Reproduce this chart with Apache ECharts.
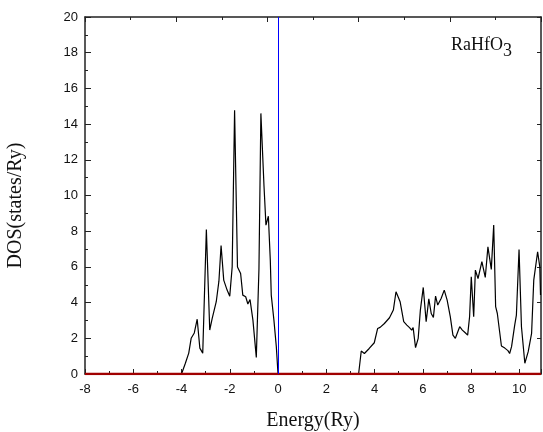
<!DOCTYPE html>
<html lang="en">

<head>
    <meta charset="UTF-8">
    <title>RaHfO3 DOS</title>
    <script src="https://cdn.jsdelivr.net/npm/echarts@6/dist/echarts.min.js"></script>
    <style>
        body { margin: 0; background: #fff; }
        .dos { width: 543px; height: 432px; }
    </style>
</head>

<body>
    <div class="dos"></div>
</body>
<script>
    // energy (Ry) and DOS (states/Ry)
    let energy = [-8, -4.0, -3.84, -3.70, -3.60, -3.47, -3.35, -3.24, -3.12, -3.04, -2.97, -2.83, -2.73, -2.56, -2.45,
        -2.36, -2.25, -2.11, -2.0, -1.90, -1.80, -1.68, -1.55, -1.46, -1.34, -1.25, -1.16, -1.04, -0.90, -0.79,
        -0.71, -0.58, -0.50, -0.40, -0.32, -0.28, -0.17, -0.07, 0.0,
        3.34, 3.45, 3.58, 3.78, 3.99, 4.13, 4.23, 4.41, 4.62, 4.78, 4.89, 4.99, 5.06, 5.13, 5.21, 5.34, 5.45, 5.54,
        5.60, 5.70, 5.81, 5.90, 6.02, 6.14, 6.25, 6.35, 6.44, 6.53, 6.62, 6.76, 6.89, 7.01, 7.14, 7.25, 7.35, 7.43,
        7.53, 7.64, 7.76, 7.86, 7.94, 8.01, 8.11, 8.18, 8.29, 8.45, 8.52, 8.59, 8.70, 8.84, 8.94, 9.02, 9.09, 9.26,
        9.40, 9.53, 9.60, 9.68, 9.74, 9.81, 9.88, 9.99, 10.09, 10.23, 10.37, 10.51, 10.60, 10.76, 10.85, 10.88]
    let dos = [0, 0, 0.6, 1.17, 2.0, 2.3, 3.07, 1.45, 1.17, 1.1, 8.1, 2.46, 3.1, 4.05, 5.2,
        7.2, 5.26, 4.7, 4.36, 6.0, 14.77, 6.0, 5.63, 4.42, 4.33, 3.92, 4.17, 3.02, 0.93, 5.9,
        14.6, 10.5, 8.34, 8.84, 6.38, 4.42, 3.02, 1.53, 0,
        0, 1.29, 1.15, 1.43, 1.75, 2.55, 2.61, 2.83, 3.15, 3.58, 4.61, 4.29, 4.05, 4.1, 2.93, 2.74, 2.6, 2.46,
        2.6, 1.48, 2.0, 3.58, 4.85, 2.93, 4.21, 3.39, 3.17, 4.36, 3.86, 4.23, 4.70, 4.14, 3.21, 2.18, 2.0, 2.05,
        2.65, 2.46, 2.31, 2.18, 3.21, 5.45, 3.21, 5.82, 5.35, 6.29, 6.2, 5.41, 7.12, 5.86, 8.34, 3.77, 3.39, 1.57,
        1.45, 1.31, 1.15, 1.53, 1.45, 2.74, 3.30, 6.98, 2.65, 0.60, 1.25, 2.28, 5.26, 6.85, 6.0, 4.42]
    let xRange = [-8, 10.9]
    let yRange = [0, 20]

    let dosData = energy.map((e, i) => [e, dos[i]])
    let zeroData = xRange.map(e => [e, 0])

    let mCharts = echarts.init(document.querySelector('.dos'))

    let axisColor = '#222'
    let option = {
        animation: false,
        title: {
            text: '{a|RaHfO}{s|3}',
            left: 446,
            top: 25,
            textStyle: {
                rich: {
                    a: { fontFamily: 'Liberation Serif', fontSize: 18, fontWeight: 'normal', color: '#111' },
                    s: { fontFamily: 'Liberation Serif', fontSize: 18, fontWeight: 'normal', color: '#111', padding: [12, 0, 0, 0] }
                }
            }
        },
        grid: { left: 85, right: 2, top: 17, bottom: 58, outerBoundsMode: 'none' },
        xAxis: [{
            type: 'value',
            min: xRange[0],
            max: xRange[1],
            interval: 2,
            name: 'Energy(Ry)',
            nameLocation: 'middle',
            nameGap: 37,
            nameTextStyle: { fontFamily: 'Liberation Serif', fontSize: 20, color: '#111' },
            axisLine: { onZero: false, lineStyle: { color: axisColor, width: 1.5 } },
            axisTick: { inside: true, length: 5, lineStyle: { color: axisColor } },
            minorTick: { show: true, splitNumber: 2, length: 3, lineStyle: { color: axisColor } },
            axisLabel: {
                showMaxLabel: false,
                margin: 9,
                fontFamily: 'Liberation Sans',
                fontSize: 13,
                color: '#111'
            },
            splitLine: { show: false }
        }, {
            // mirror axis on top
            type: 'value',
            position: 'top',
            min: 0,
            max: 10,
            interval: 2,
            axisLine: { onZero: false, lineStyle: { color: axisColor, width: 1.5 } },
            axisTick: { inside: true, length: 5, lineStyle: { color: axisColor } },
            minorTick: { show: true, splitNumber: 2, length: 3, lineStyle: { color: axisColor } },
            axisLabel: { show: false },
            splitLine: { show: false }
        }],
        yAxis: [{
            type: 'value',
            min: yRange[0],
            max: yRange[1],
            interval: 2,
            name: 'DOS(states/Ry)',
            nameLocation: 'middle',
            nameGap: 59,
            nameTextStyle: { fontFamily: 'Liberation Serif', fontSize: 20, color: '#111', padding: [0, 20, 0, 0] },
            axisLine: { onZero: false, lineStyle: { color: axisColor, width: 1.5 } },
            axisTick: { inside: true, length: 6, lineStyle: { color: axisColor } },
            minorTick: { show: true, splitNumber: 2, length: 3, lineStyle: { color: axisColor } },
            axisLabel: { margin: 7, fontFamily: 'Liberation Sans', fontSize: 13, color: '#111' },
            splitLine: { show: false }
        }, {
            // mirror axis on the right
            type: 'value',
            position: 'right',
            min: yRange[0],
            max: yRange[1],
            interval: 2,
            axisLine: { onZero: false, lineStyle: { color: axisColor, width: 1.5 } },
            axisTick: { inside: true, length: 4, lineStyle: { color: axisColor } },
            axisLabel: { show: false },
            splitLine: { show: false }
        }],
        series: [{
            type: 'line',
            data: dosData,
            showSymbol: false,
            lineStyle: { color: '#000', width: 1.2 },
            markLine: {
                silent: true,
                symbol: 'none',
                label: { show: false },
                lineStyle: { color: '#0000ff', width: 1, type: 'solid' },
                data: [{ xAxis: 0 }]
            }
        }, {
            type: 'line',
            data: zeroData,
            showSymbol: false,
            lineStyle: { color: '#a00000', width: 2.5 },
            z: 3
        }]
    }
    mCharts.setOption(option)
</script>

</html>
